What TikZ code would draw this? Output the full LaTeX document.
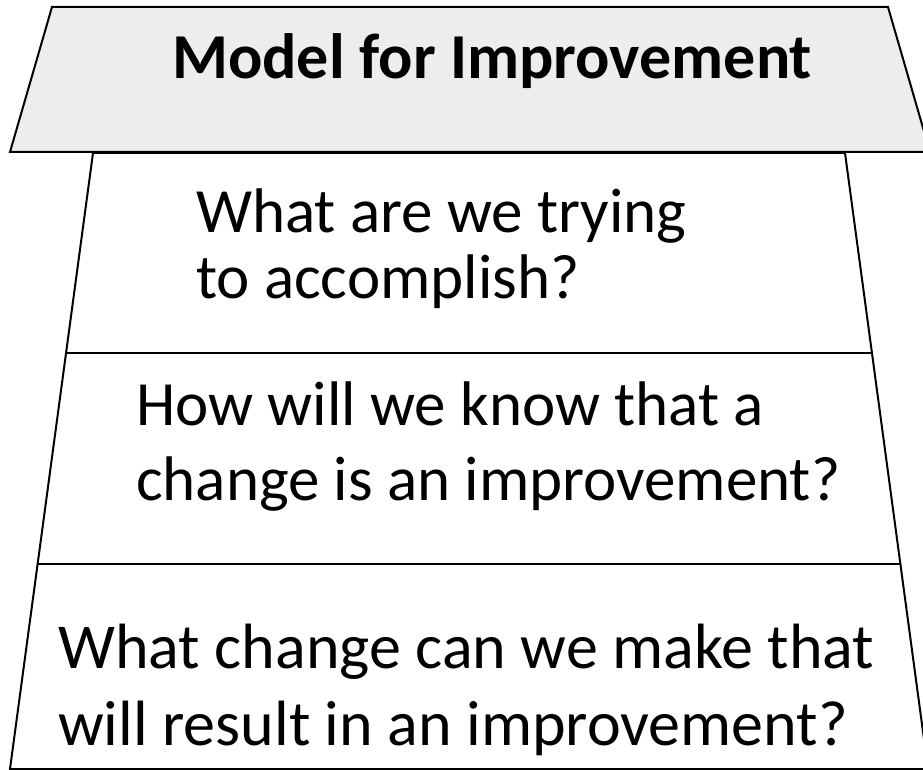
\documentclass[tikz,border=0pt]{standalone}
\usepackage{fontspec}
\setmainfont{Carlito}
\usepackage{xcolor}
\usetikzlibrary{calc}

\definecolor{headgray}{HTML}{EDEDED}

\begin{document}
\begin{tikzpicture}
		[x=1pt,y=-1pt,
		layer/.style={draw=black,line width=2pt,line join=miter},
		question/.style={anchor=base west,align=left,inner sep=0pt}]
		\useasboundingbox (0,0) rectangle (923,770);
		% head of the model
		\draw[layer,fill=headgray] (52,7) -- (888,7) -- (930,152) -- (10,152) -- cycle;
		\node[anchor=base west,inner sep=0pt,font=\bfseries\fontsize{64}{70}\selectfont] (title) at (172,79) {Model for Improvement};
		% body with three questions
		\coordinate (tl) at (93,153);
		\coordinate (tr) at (845,153);
		\coordinate (bl) at (10,769);
		\coordinate (br) at (928,769);
		\draw[layer] (tl) -- (tr) -- (br) -- (bl) -- cycle;
		\draw[layer] ($(tl)!0.3247!(bl)$) -- ($(tr)!0.3247!(br)$);
		\draw[layer] ($(tl)!0.667!(bl)$) -- ($(tr)!0.667!(br)$);
		% base anchor sits on the last line
		\node[question,font=\fontsize{63}{66}\selectfont] (aim) at (196,298) {What are we trying\\to accomplish?};
		\node[question,font=\fontsize{63}{75}\selectfont] (measure) at (136,500) {How will we know that a\\change is an improvement?};
		\node[question,font=\fontsize{64}{77}\selectfont] (change) at (58,745) {What change can we make that\\will result in an improvement?};
\end{tikzpicture}
\end{document}
